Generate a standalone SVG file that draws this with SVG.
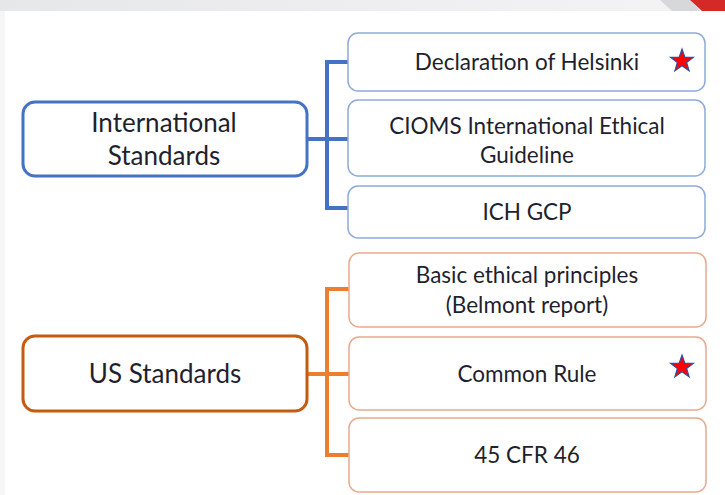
<svg xmlns="http://www.w3.org/2000/svg" width="725" height="495" viewBox="0 0 725 495">
<defs>
<linearGradient id="band" x1="0" y1="0" x2="1" y2="0">
<stop offset="0" stop-color="#e6e7e9"/>
<stop offset="1" stop-color="#f4f4f5"/>
</linearGradient>
<polygon id="star" points="0,-12 2.8,-3.9 11.4,-3.7 4.6,1.5 7.1,9.7 0,4.8 -7.1,9.7 -4.6,1.5 -11.4,-3.7 -2.8,-3.9"/>
</defs>
<style>
.main{fill:#fff;stroke-width:3}
.child{fill:#fff;stroke-width:1.5}
.blue{stroke:#4472C4}
.lblue{stroke:#8eaadb}
.orange{stroke:#C55A11}
.lorange{stroke:#e9a98c}
.conn{fill:none;stroke-width:4}
.t{font-family:Lato,"Open Sans",sans-serif;fill:#1f1f2e;text-anchor:middle}
.big{font-size:26px}
.small{font-size:22.5px}
.star{fill:#ff0000;stroke:#2f4f9f;stroke-width:1.2}
</style>
<rect x="0" y="0" width="725" height="495" fill="#fff"/>
<rect x="0" y="0" width="725" height="11" fill="url(#band)"/>
<polygon points="660,0 690,0 700,11 672,11" fill="#d7d8da"/>
<polygon points="690,0 725,0 725,11 702,11" fill="#d42a27"/>
<rect x="0" y="11" width="5" height="484" fill="#f6f6f7"/>

<g id="connectors">
<path class="conn" stroke="#4472C4" d="M306,139 H327 M348,62 H327 V208 H348 M327,139 H348"/>
<path class="conn" stroke="#ED7D31" d="M307,374 H327 M349,289 H327 V455 H349 M327,374 H349"/>
</g>

<g id="intl">
<rect class="main blue" x="23" y="102" width="284" height="74" rx="12"/>
<text class="t big" x="164" y="132">International</text>
<text class="t big" x="164" y="165">Standards</text>
</g>
<g id="helsinki">
<rect class="child lblue" x="348" y="33" width="357" height="58" rx="10"/>
<text class="t small" x="527" y="70">Declaration of Helsinki</text>
<use href="#star" class="star" x="682" y="61"/>
</g>
<g id="cioms">
<rect class="child lblue" x="348" y="100" width="357" height="76" rx="10"/>
<text class="t small" x="527" y="134">CIOMS International Ethical</text>
<text class="t small" x="527" y="163">Guideline</text>
</g>
<g id="ichgcp">
<rect class="child lblue" x="348" y="186" width="357" height="52" rx="10"/>
<text class="t small" x="527" y="220">ICH GCP</text>
</g>

<g id="us">
<rect class="main orange" x="23" y="336" width="284" height="75" rx="12"/>
<text class="t big" x="165" y="383">US Standards</text>
</g>
<g id="belmont">
<rect class="child lorange" x="349" y="253" width="357" height="74" rx="10"/>
<text class="t small" x="527" y="283">Basic ethical principles</text>
<text class="t small" x="527" y="313">(Belmont report)</text>
</g>
<g id="commonrule">
<rect class="child lorange" x="349" y="337" width="357" height="73" rx="10"/>
<text class="t small" x="527" y="382">Common Rule</text>
<use href="#star" class="star" x="682" y="367"/>
</g>
<g id="cfr">
<rect class="child lorange" x="349" y="418" width="357" height="74" rx="10"/>
<text class="t small" x="527" y="463">45 CFR 46</text>
</g>
</svg>
